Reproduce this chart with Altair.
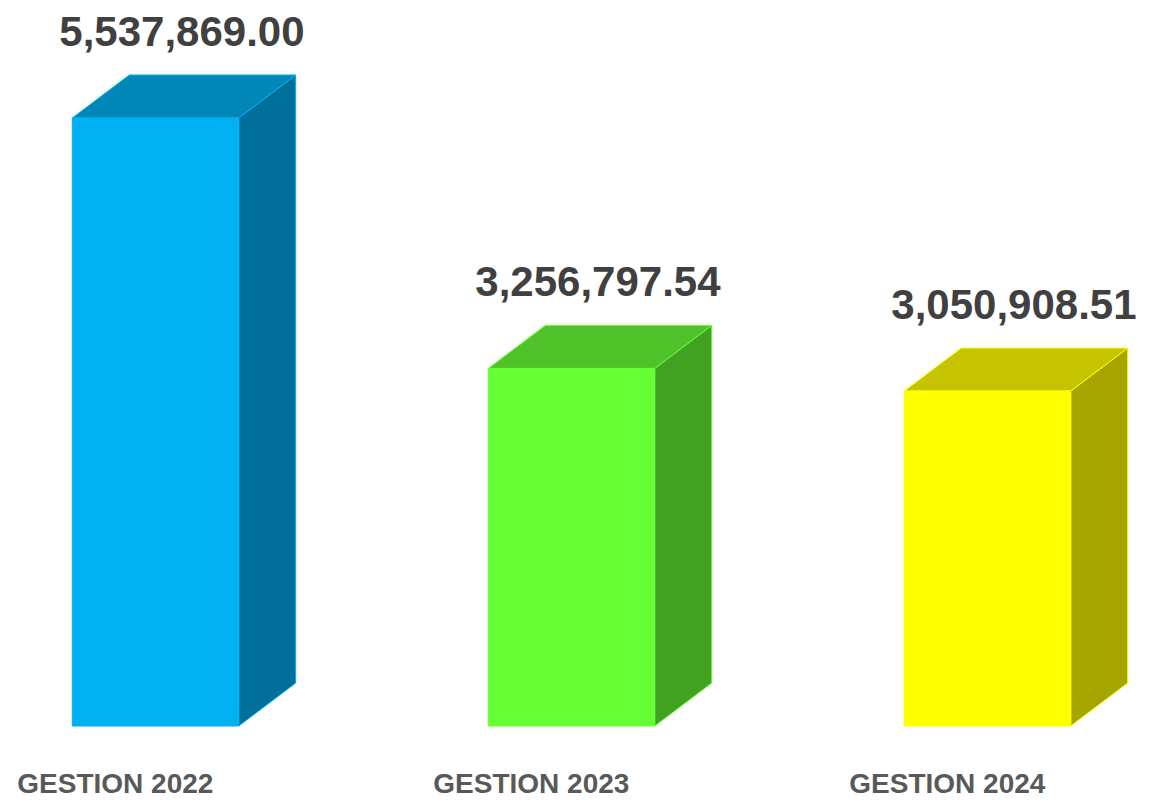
import altair as alt
import pandas as pd

# ---- data ----
categories = ["GESTION 2022", "GESTION 2023", "GESTION 2024"]
values = [5537869.00, 3256797.54, 3050908.51]
front_colors = ["#00B0F0", "#66FF33", "#FFFF00"]
top_colors = ["#0087B8", "#50C22A", "#C6C300"]
side_colors = ["#00709A", "#41A221", "#A6A500"]

# ---- layout constants (scale setup) ----
W, H = 1137, 791
PX_PER_UNIT = 608 / 5537869.0
BASE_PX = 718
SPACING_PX = 416
HALF = 0.2
DEPTH_X = 57 / SPACING_PX
DEPTH_Y = 43 / PX_PER_UNIT
x_domain = [-147.5 / SPACING_PX, (W - 147.5) / SPACING_PX]
y_domain = [(BASE_PX - H) / PX_PER_UNIT, BASE_PX / PX_PER_UNIT]

xs = alt.Scale(domain=x_domain, nice=False, zero=False)
ys = alt.Scale(domain=y_domain, nice=False, zero=False)

front_rows, side_rows, top_rows, lab_rows = [], [], [], []
for i, (c, v) in enumerate(zip(categories, values)):
    front_rows.append(dict(cat=c, x=i - HALF, x2=i + HALF, y=0.0, y2=v))
    side_rows.append(dict(cat=c, x=i + HALF, y=v, y2=0.0))
    side_rows.append(dict(cat=c, x=i + HALF + DEPTH_X, y=v + DEPTH_Y, y2=DEPTH_Y))
    top_rows.append(dict(cat=c, y=v, x=i - HALF, x2=i + HALF))
    top_rows.append(dict(cat=c, y=v + DEPTH_Y, x=i - HALF + DEPTH_X, x2=i + HALF + DEPTH_X))
    lab_rows.append(dict(cat=c, v=v, x=i + DEPTH_X / 2 - 0.005, y=v + DEPTH_Y,
                         xl=i - HALF - 55 / SPACING_PX, zero=0.0))

front = pd.DataFrame(front_rows)
side = pd.DataFrame(side_rows)
top = pd.DataFrame(top_rows)
labs = pd.DataFrame(lab_rows)

def col(rng):
    return alt.Color("cat:N", scale=alt.Scale(domain=categories, range=rng), legend=None)

def stk():
    return alt.Stroke("cat:N", scale=alt.Scale(domain=categories, range=front_colors), legend=None)

side_layer = alt.Chart(side).mark_area(strokeWidth=1).encode(
    x=alt.X("x:Q", scale=xs, axis=None),
    y=alt.Y("y:Q", scale=ys, axis=None),
    y2="y2:Q",
    color=col(side_colors),
    stroke=stk(),
)

top_layer = alt.Chart(top).mark_area(orient="horizontal", strokeWidth=1).encode(
    y=alt.Y("y:Q", scale=ys, axis=None),
    x=alt.X("x:Q", scale=xs, axis=None),
    x2="x2:Q",
    color=col(top_colors),
    stroke=stk(),
)

front_layer = alt.Chart(front).mark_rect(strokeWidth=1).encode(
    x=alt.X("x:Q", scale=xs, axis=None),
    x2="x2:Q",
    y=alt.Y("y:Q", scale=ys, axis=None),
    y2="y2:Q",
    color=col(front_colors),
    stroke=stk(),
)

value_labels = alt.Chart(labs).mark_text(
    font="Liberation Sans", fontSize=42, fontWeight="bold", color="#404040",
    baseline="alphabetic", align="center", dy=-29,
).encode(
    x=alt.X("x:Q", scale=xs, axis=None),
    y=alt.Y("y:Q", scale=ys, axis=None),
    text=alt.Text("v:Q", format=",.2f"),
)

cat_labels = alt.Chart(labs).mark_text(
    font="Liberation Sans", fontSize=28, fontWeight="bold", color="#595959",
    baseline="alphabetic", align="left", dy=67,
).encode(
    x=alt.X("xl:Q", scale=xs, axis=None),
    y=alt.Y("zero:Q", scale=ys, axis=None),
    text="cat:N",
)

chart = alt.layer(side_layer, top_layer, front_layer, value_labels, cat_labels).resolve_scale(
    color="independent", stroke="independent"
).properties(
    width=W, height=H, padding=0,
    autosize=alt.AutoSizeParams(type="none"),
    background="white",
).configure_view(stroke=None)

chart.save("out.html", embed_options={"renderer": "svg", "actions": False})
